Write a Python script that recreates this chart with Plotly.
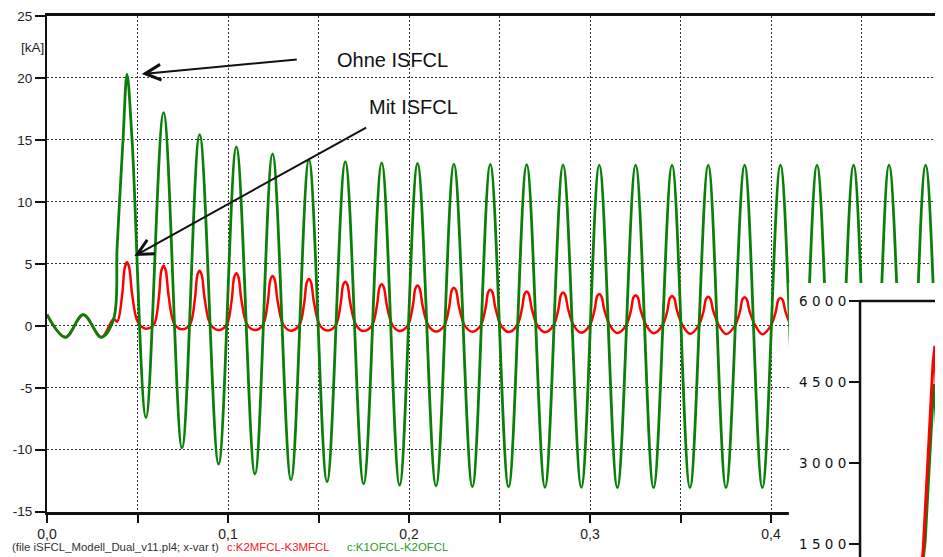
import plotly.graph_objects as go

# ---------------- data ----------------
# common pre-fault waveform (both currents identical), time in s, current in kA
pre_t = [0.0, 0.0102, 0.0200, 0.0300, 0.0368]
pre_v = [0.90, -0.92, 0.90, -0.92, 0.55]

# Ohne ISFCL (green) - steep rise after fault, then peaks / troughs
green_rise_t = [0.0387, 0.0401, 0.0420]
green_rise_v = [6.2, 10.1, 15.0]
green_fall_t = [0.0470]
green_fall_v = [15.0]

peak_t = [0.0442, 0.0644, 0.0843, 0.1046, 0.1246, 0.1447, 0.1648, 0.1849,
          0.2047, 0.2248, 0.2449, 0.2650, 0.2851, 0.3051, 0.3252, 0.3453,
          0.3653, 0.3854, 0.4052, 0.4254, 0.4456, 0.4652, 0.4854, 0.5055]
green_peak_v = [20.3, 17.2, 15.42, 14.44, 13.88, 13.40, 13.25, 13.15,
                13.10, 13.05, 13.02, 13.00, 12.98, 12.97, 12.96, 12.96,
                12.96, 12.96, 12.96, 12.96, 12.96, 12.96, 12.96, 12.96]
trough_t = [0.0547, 0.0746, 0.0948, 0.1149, 0.1348, 0.1547, 0.1749, 0.1948,
            0.2149, 0.2350, 0.2550, 0.2751, 0.2952, 0.3151, 0.3351, 0.3552,
            0.3751, 0.3952, 0.4153, 0.4355, 0.4555, 0.4755, 0.4955]
green_trough_v = [-7.40, -9.85, -11.15, -11.96, -12.42, -12.58, -12.76, -12.85,
                  -12.93, -12.98, -13.00, -13.03, -13.03, -13.06, -13.06, -13.06,
                  -13.06, -13.06, -13.06, -13.06, -13.06, -13.06, -13.06]

# Mit ISFCL (red) - per cycle: low point before peak, half level before,
# shoulder of the rounded top, peak, shoulder, half level after, low point after, trough
red_peak_v = [5.12, 4.85, 4.45, 4.24, 4.02, 3.78, 3.56, 3.36, 3.25, 3.08,
              2.92, 2.77, 2.68, 2.57, 2.47, 2.41, 2.35, 2.30, 2.25, 2.20]
red_top_v = [4.72, 4.47, 4.10, 3.91, 3.71, 3.49, 3.29, 3.10, 3.00, 2.85,
             2.70, 2.56, 2.48, 2.38, 2.29, 2.23, 2.18, 2.13, 2.09, 2.04]
red_half_up_v = [2.60, 2.30, 2.15, 2.05, 1.95, 1.85, 1.75, 1.65, 1.60, 1.52,
                 1.45, 1.38, 1.33, 1.28, 1.23, 1.20, 1.17, 1.14, 1.12, 1.10]
red_half_dn_v = [2.60, 2.40, 2.20, 2.10, 2.00, 1.88, 1.78, 1.68, 1.62, 1.54,
                 1.46, 1.39, 1.34, 1.29, 1.24, 1.21, 1.18, 1.15, 1.13, 1.10]
red_low_up_v = [0.35, 0.10, 0.08, 0.06, 0.05, 0.04, 0.03, 0.02, 0.02, 0.01,
                0.00, 0.00, 0.00, 0.00, 0.00, 0.00, 0.00, 0.00, 0.00, 0.00]
red_low_dn_v = [0.30, 0.15, 0.12, 0.10, 0.08, 0.06, 0.05, 0.04, 0.03, 0.02,
                0.01, 0.00, 0.00, 0.00, 0.00, 0.00, 0.00, 0.00, 0.00, 0.00]
red_trough_v = [-0.23, -0.28, -0.34, -0.34, -0.39, -0.38, -0.42, -0.42, -0.46, -0.48,
                -0.50, -0.52, -0.55, -0.58, -0.60, -0.64, -0.66, -0.68, -0.70, -0.70]
# time offsets of the shape points relative to each peak (s)
red_off_low_up, red_off_half_up, red_off_top = -0.0054, -0.0026, 0.0012
red_off_half_dn, red_off_low_dn = 0.0028, 0.0060

# inset (zoom of first peak, current in A)
inset_green_t = [0.0410, 0.04215, 0.0440, 0.0445, 0.0452]
inset_green_v = [600, 1560, 4460, 3700, 2200]
inset_red_t = [0.0410, 0.0417, 0.0438, 0.04405, 0.0442, 0.04445, 0.0453]
inset_red_v = [700, 1420, 4850, 5120, 5170, 4500, 3300]

# axis ticks
x_tick_vals = [0.0, 0.05, 0.1, 0.15, 0.2, 0.25, 0.3, 0.35, 0.4, 0.45]
x_tick_text = ["0,0", "", "0,1", "", "0,2", "", "0,3", "", "0,4", ""]
y_tick_vals = [-15, -10, -5, 0, 5, 10, 15, 20, 25]
y_tick_text = ["-15", "-10", "-5", "0", "5", "10", "15", "20", "25"]
inset_tick_vals = [1500, 3000, 4500, 6000]
inset_tick_text = ["1 5 0 0", "3 0 0 0", "4 5 0 0", "6 0 0 0"]

# ---------------- assemble series ----------------
green_t = list(pre_t) + green_rise_t + [peak_t[0]] + green_fall_t
green_v = list(pre_v) + green_rise_v + [green_peak_v[0]] + green_fall_v
for k in range(len(trough_t)):
    green_t += [trough_t[k], peak_t[k + 1]]
    green_v += [green_trough_v[k], green_peak_v[k + 1]]

red_t = list(pre_t)
red_v = list(pre_v)
for k in range(len(red_peak_v)):
    tp = peak_t[k]
    red_t += [tp + red_off_low_up, tp + red_off_half_up, tp - red_off_top, tp,
              tp + red_off_top, tp + red_off_half_dn, tp + red_off_low_dn, trough_t[k]]
    red_v += [red_low_up_v[k], red_half_up_v[k], red_top_v[k], red_peak_v[k],
              red_top_v[k], red_half_dn_v[k], red_low_dn_v[k], red_trough_v[k]]

GREEN = "#0a800a"
RED = "#ff0000"

fig = go.Figure()
fig.add_trace(go.Scatter(x=red_t, y=red_v, mode="lines", xaxis="x", yaxis="y",
                         line=dict(color=RED, width=2.5, shape="spline", smoothing=1),
                         hoverinfo="skip"))
fig.add_trace(go.Scatter(x=green_t, y=green_v, mode="lines", xaxis="x", yaxis="y",
                         line=dict(color=GREEN, width=2.8, shape="spline", smoothing=1),
                         hoverinfo="skip"))
fig.add_trace(go.Scatter(x=inset_green_t, y=inset_green_v, mode="lines", xaxis="x2", yaxis="y2",
                         line=dict(color=GREEN, width=2.5), hoverinfo="skip"))
fig.add_trace(go.Scatter(x=inset_red_t, y=inset_red_v, mode="lines", xaxis="x2", yaxis="y2",
                         line=dict(color=RED, width=3), hoverinfo="skip"))

ytickfont = dict(family="Liberation Sans, Arial, sans-serif", size=13.5, color="#222")
xtickfont = dict(family="Liberation Sans, Arial, sans-serif", size=14, color="#222")

# the page adds an 8 px body margin, so the figure is 8 px smaller on each used side
fig.update_layout(
    width=935, height=549,
    margin=dict(l=39, r=0, t=8, b=0, pad=0),
    template="none",
    paper_bgcolor="white", plot_bgcolor="white",
    showlegend=False,
    xaxis=dict(domain=[0, 1], range=[0, 0.495], anchor="y",
               tickmode="array", tickvals=x_tick_vals, ticktext=x_tick_text,
               ticks="outside", ticklen=8, tickwidth=2, tickcolor="#111",
               showline=True, linewidth=2.8, linecolor="#111", mirror=True,
               showgrid=True, gridcolor="#333", gridwidth=1, griddash="2px,2px",
               zeroline=False, tickfont=xtickfont, automargin=False),
    yaxis=dict(domain=[0.0837, 1], range=[-15, 25], anchor="x",
               tickmode="array", tickvals=y_tick_vals, ticktext=y_tick_text,
               ticks="outside", ticklen=10, tickwidth=2, tickcolor="#111",
               showline=True, linewidth=2.2, linecolor="#111", mirror=False,
               showgrid=True, gridcolor="#333", gridwidth=1, griddash="2px,2px",
               zeroline=False, tickfont=ytickfont, automargin=False),
    xaxis2=dict(domain=[0.828, 1], range=[0.01274, 0.04595], anchor="y2",
                showticklabels=False, ticks="", showline=False, showgrid=False,
                zeroline=False, automargin=False),
    yaxis2=dict(domain=[0, 0.5065], range=[1259, 6333], anchor="free", position=0.9074,
                tickmode="array", tickvals=inset_tick_vals, ticktext=inset_tick_text,
                ticks="outside", ticklen=11, tickwidth=2, tickcolor="#111",
                showline=False, showgrid=False, zeroline=False, automargin=False,
                tickfont=dict(family="DejaVu Sans, sans-serif", size=13.5, color="#111")),
    shapes=[
        dict(type="line", xref="paper", yref="y2", x0=0.9074, x1=0.9074, y0=6000, y1=1000,
             line=dict(color="#111", width=2.5), layer="above"),
        dict(type="line", xref="paper", yref="y2", x0=0.9074, x1=1.0, y0=6000, y1=6000,
             line=dict(color="#111", width=2.5), layer="above"),
    ],
    annotations=[
        dict(text="Ohne ISFCL", xref="paper", yref="paper", x=0.3856, y=0.9187,
             xanchor="center", yanchor="middle", showarrow=False,
             font=dict(family="Liberation Sans, Arial, sans-serif", size=20, color="#111")),
        dict(text="Mit ISFCL", xref="paper", yref="paper", x=0.4088, y=0.8323,
             xanchor="center", yanchor="middle", showarrow=False,
             font=dict(family="Liberation Sans, Arial, sans-serif", size=20, color="#111")),
        dict(text="", xref="x", yref="y", x=0.0523, y=20.32, ax=156.6, ay=-14.7,
             showarrow=True, arrowhead=5, arrowsize=1.55, arrowwidth=2, arrowcolor="#111",
             standoff=0),
        dict(text="", xref="x", yref="y", x=0.0482, y=5.63, ax=233.4, ay=-129.3,
             showarrow=True, arrowhead=5, arrowsize=1.55, arrowwidth=2, arrowcolor="#111",
             standoff=0),
        dict(text="[kA]", xref="paper", yref="paper", x=-0.0162, y=0.9409,
             xanchor="center", yanchor="middle", showarrow=False, font=ytickfont),
        dict(text="(file iSFCL_Modell_Dual_v11.pl4; x-var t)", xref="paper", yref="paper",
             x=-0.041, y=0.0185, xanchor="left", yanchor="middle", showarrow=False,
             font=dict(family="Liberation Sans, Arial, sans-serif", size=11.4, color="#333")),
        dict(text="c:K2MFCL-K3MFCL", xref="paper", yref="paper",
             x=0.199, y=0.0185, xanchor="left", yanchor="middle", showarrow=False,
             font=dict(family="Liberation Sans, Arial, sans-serif", size=11.4, color="#f02020")),
        dict(text="c:K1OFCL-K2OFCL", xref="paper", yref="paper",
             x=0.333, y=0.0185, xanchor="left", yanchor="middle", showarrow=False,
             font=dict(family="Liberation Sans, Arial, sans-serif", size=11.4, color="#2a9a2a")),
    ],
)

fig.write_html("out.html")
